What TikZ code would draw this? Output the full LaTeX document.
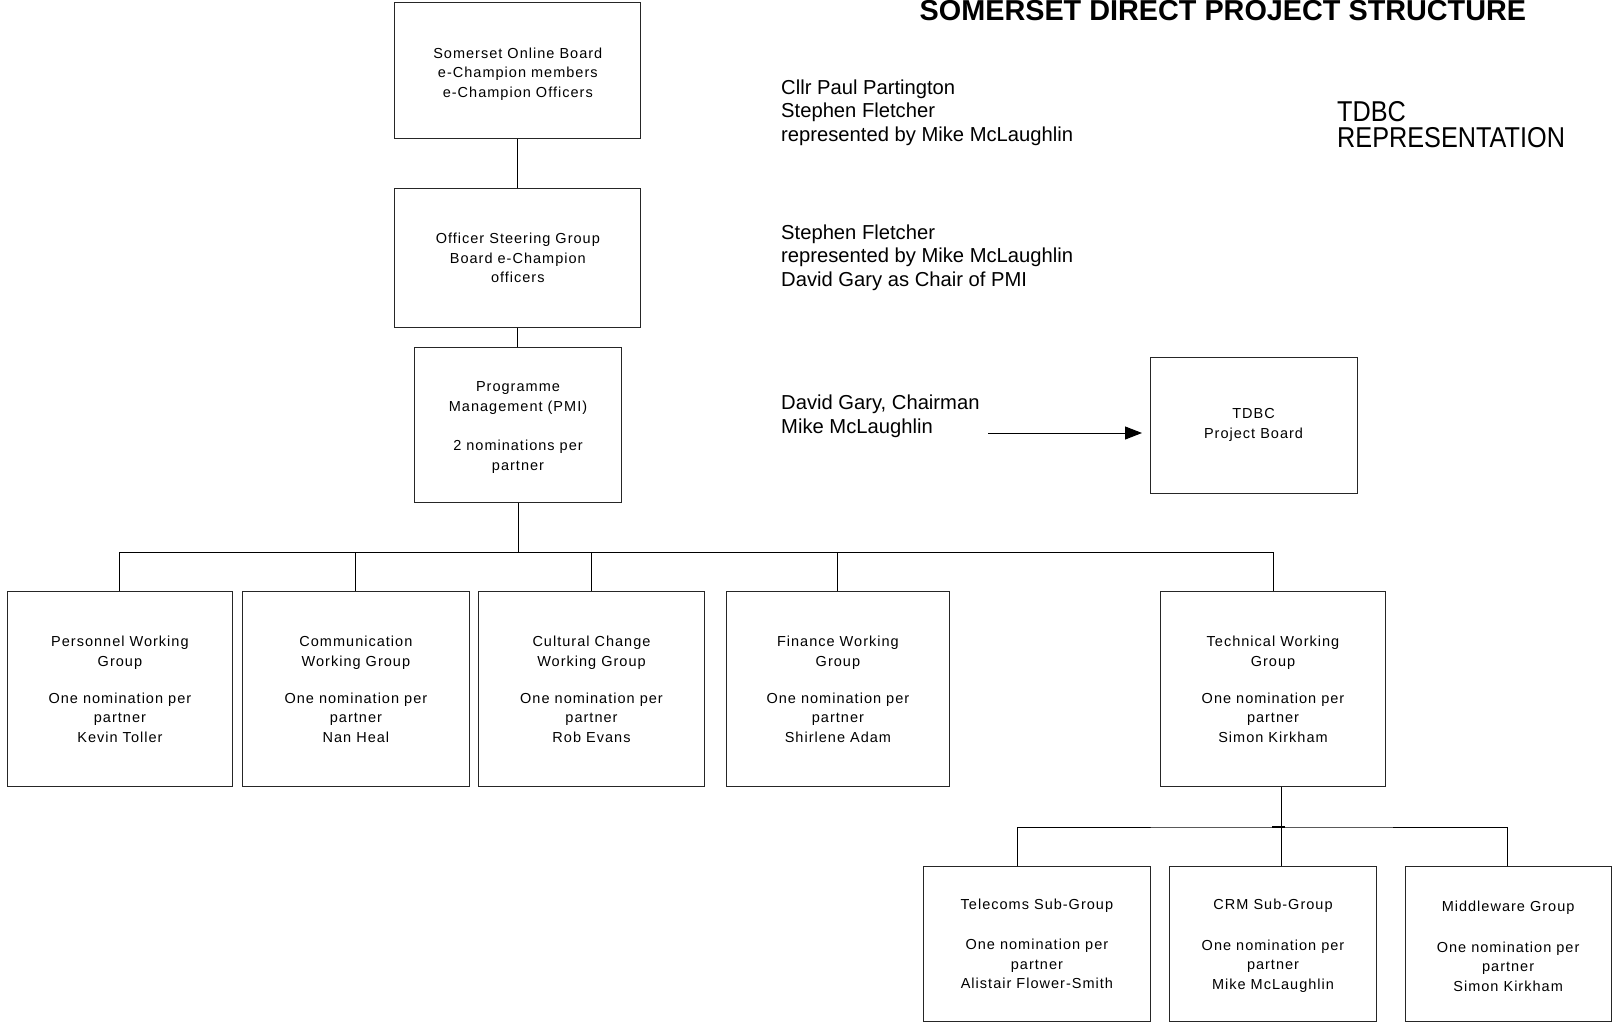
\documentclass[tikz,border=0pt]{standalone}
\usepackage{fontspec}
\setmainfont{Liberation Sans}
\newfontfamily\boxfont[LetterSpace=7]{Liberation Sans}
\newfontfamily\narrowfont[FakeStretch=0.88]{Liberation Sans}
\usetikzlibrary{arrows.meta}

\tikzset{
  unit/.style={draw=black!85, line width=1pt, inner sep=0pt, align=center,
    font=\boxfont\fontsize{14.5}{19.5}\selectfont},
  wg/.style={unit, minimum height=195.5pt},
  sub/.style={unit, minimum height=155.5pt},
  memo/.style={anchor=north west, inner sep=0pt, align=left,
    font=\fontsize{20.2}{23.5}\selectfont},
  link/.style={line width=1pt}
}

\begin{document}
\begin{tikzpicture}[x=1pt,y=-1pt]
  \useasboundingbox (0,0) rectangle (1613,1024);

  % heading
  \node[anchor=base west, inner sep=0pt, font=\bfseries\fontsize{28.8}{30}\selectfont] (title) at (919.5,20.7) {SOMERSET DIRECT PROJECT STRUCTURE};

  % boards at the top
  \node[unit, minimum width=245.7pt, minimum height=136pt] (board) at (517.8,71) {\rule{0pt}{17pt}Somerset Online Board\\e-Champion members\\e-Champion Officers};
  \node[unit, minimum width=245.7pt, minimum height=138pt] (steer) at (517.8,258) {Officer Steering Group\\Board e-Champion\\officers};
  \node[unit, minimum width=206.6pt, minimum height=155.4pt] (pmi) at (518,425) {\rule{0pt}{15pt}Programme\\Management (PMI)\\[20pt]2 nominations per\\partner};
  \node[unit, minimum width=207pt, minimum height=136pt] (tdbc) at (1253.5,425) {TDBC\\Project Board};

  % who represents TDBC
  \node[memo] (onlinerep) at (781,79.4) {Cllr Paul Partington\\Stephen Fletcher\\represented by Mike McLaughlin};
  \node[memo] (steerrep) at (781,224.4) {Stephen Fletcher\\represented by Mike McLaughlin\\David Gary as Chair of PMI};
  \node[memo] (pmirep) at (781,395) {David Gary, Chairman\\Mike McLaughlin};
  \node[memo, font=\narrowfont\fontsize{28.7}{26.7}\selectfont] (tdbcrep) at (1337,100.8) {TDBC\\REPRESENTATION};

  \coordinate (arrtail) at (988,433);
  \coordinate (arrhead) at (1142,433);
  \draw[link, -{Triangle[length=17pt,width=13pt]}] (arrtail) -- (arrhead);

  % working groups
  \node[wg, minimum width=225.3pt] (pwg) at (119.9,689.2) {Personnel Working\\Group\\[17.5pt]One nomination per\\partner\\Kevin Toller};
  \node[wg, minimum width=226.2pt] (cwg) at (355.9,689.2) {Communication\\Working Group\\[17.5pt]One nomination per\\partner\\Nan Heal};
  \node[wg, minimum width=226.4pt] (ccwg) at (591.5,689.2) {Cultural Change\\Working Group\\[17.5pt]One nomination per\\partner\\Rob Evans};
  \node[wg, minimum width=223.2pt] (fwg) at (837.9,689.2) {Finance Working\\Group\\[17.5pt]One nomination per\\partner\\Shirlene Adam};
  \node[wg, minimum width=225.3pt] (twg) at (1273,689.2) {Technical Working\\Group\\[17.5pt]One nomination per\\partner\\Simon Kirkham};

  % technical sub-groups
  \node[sub, minimum width=226.2pt] (tel) at (1036.9,943.8) {Telecoms Sub-Group\\[20.9pt]One nomination per\\partner\\Alistair Flower-Smith};
  \node[sub, minimum width=206.8pt] (crm) at (1273,943.8) {\rule{0pt}{14.6pt}CRM Sub-Group\\[20.9pt]One nomination per\\partner\\Mike McLaughlin};
  \node[sub, minimum width=205.8pt] (mid) at (1508.1,943.8) {\\[-4pt]Middleware Group\\[20.9pt]One nomination per\\partner\\Simon Kirkham};

  % connectors
  \draw[link] (board) -- (steer);
  \draw[link] (steer.south) -- (steer.south |- pmi.north);
  \coordinate (bus) at (518,552.4);
  \draw[link] (pmi.south) -- (pmi.south |- bus);
  \draw[link] (pwg.north) |- (bus) -| (twg.north);
  \foreach \g in {cwg,ccwg,fwg}
    \draw[link] (\g.north) -- (\g.north |- bus);

  \coordinate (subbus) at (1281,827);
  \draw[link] (subbus |- twg.south) -- (subbus |- crm.north);
  \draw[link] ([xshift=-19.5pt]tel.north) |- (subbus) -| ([xshift=-1pt]mid.north);
  \draw[line width=2.5pt] ([xshift=-9pt]subbus) -- ([xshift=4pt]subbus);
\end{tikzpicture}
\end{document}
